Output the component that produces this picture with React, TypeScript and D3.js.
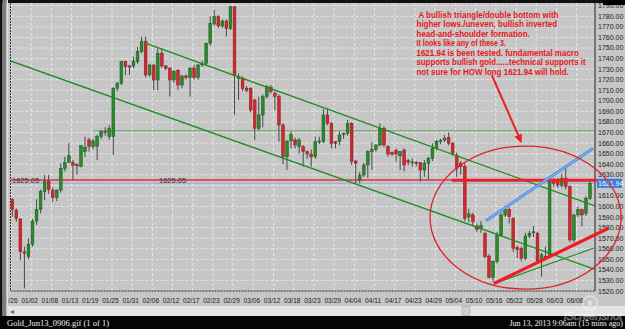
import React from 'react';
import * as d3 from 'd3';

// ---------- DATA ----------
const opens = [1606.8,1596.6,1588.1,1557,1552.5,1564.2,1586.2,1597.3,1614,1623.5,1615.6,1608.3,1615.6,1636,1642,1641.5,1639.5,1638,1652,1663,1657,1657,1666,1671,1666,1666,1711.8,1716.6,1737,1733,1733,1737,1746.5,1756,1724.5,1733.9,1719.7,1745,1733,1730.8,1719.7,1729,1715,1723.5,1722.2,1730.8,1722.2,1733.9,1735.5,1754.4,1772.7,1779.7,1770.8,1775.5,1768.6,1789.1,1721,1721.3,1712,1711.8,1700.8,1674,1686.6,1703.9,1712.7,1707,1704,1677.1,1647,1662,1663,1656.6,1656.6,1651.9,1649.7,1647.1,1661,1661.3,1686.6,1678.7,1661.3,1661.3,1668,1669.2,1678.7,1643,1625,1629.8,1639.3,1651.9,1654,1658.2,1674,1656.6,1651,1653,1648,1653.4,1643.5,1642,1641.5,1641.5,1634.5,1640.8,1645.5,1655,1661.5,1663,1665.4,1659.8,1648.7,1641,1638,1590,1592,1581.5,1579.3,1574.6,1553,1533,1547.7,1573,1591.9,1597.3,1588.8,1561,1560.4,1550.9,1572,1575.5,1574.6,1549.5,1553,1552.5,1625,1625,1620,1626.6,1618.7,1568.3,1592,1597,1593.5,1607.7];
const highs = [1608,1598,1589,1562,1570,1588,1606.8,1616,1629.8,1629.8,1618,1616,1640.8,1647,1660,1644,1641,1658,1666,1665,1664,1668,1672,1675,1677,1713,1718,1738,1738,1734,1741.8,1751,1760.7,1760.7,1735,1735,1749.7,1750,1734,1732,1729,1730,1724.5,1725,1732,1734,1735,1738,1755,1780,1786,1781,1777,1777,1789.1,1789.1,1726,1723,1714,1713,1702,1704,1706,1715,1715,1709,1706,1679,1663,1671,1665,1665,1658,1653,1654,1666,1666,1692,1692.8,1680,1662,1671,1670,1682,1680,1644,1633,1641,1653,1661,1659,1678.7,1676,1658,1652,1655,1652,1655,1645,1645.5,1643,1642,1644,1647,1659.8,1663,1664,1667.6,1670,1661,1651,1643,1641,1598,1594,1584,1586,1576,1555,1549,1576,1594,1600,1599,1590,1563,1562,1575,1577,1581.5,1576,1556,1562,1625,1626.6,1627,1631,1639.3,1620,1593,1600,1598,1610,1624];
const lows = [1590,1585.6,1549.3,1522.5,1550,1562,1582.5,1593.5,1606,1612,1604.5,1605,1613,1633,1641,1625,1630,1637,1647,1652,1654,1644,1664,1667,1663,1648.7,1709,1715,1724.5,1724.5,1731,1735,1745,1722,1723,1710.2,1710,1731,1729,1704,1717,1710,1711.8,1720,1704,1720,1720,1732,1734,1752,1771,1769,1769,1760.7,1767,1686.6,1700.8,1709,1708,1689,1662.9,1672,1675,1702,1707,1691,1661.3,1640,1634.5,1655,1655,1650,1637.7,1645,1637.7,1645,1659,1660,1677,1655,1655,1658,1664,1667,1639.3,1621.9,1622,1628,1627,1634.5,1652,1657,1656,1647,1648,1642.4,1634.5,1633,1639,1637.7,1638,1623.5,1628,1625,1643,1653,1659,1661,1658,1648,1628,1630,1586,1585,1581,1576,1575,1551,1532,1528.8,1546,1571,1590,1584,1557,1551,1548,1549,1570,1571,1546,1533.6,1550,1551,1618.7,1618,1618,1616,1566,1566,1590,1581,1591,1606];
const closes = [1597.3,1588.8,1557.2,1555.8,1564.2,1586.2,1597.3,1614,1623.5,1616.2,1608.3,1615.6,1636,1641.5,1648,1639,1638.5,1657.6,1656,1657,1662,1666,1670.8,1670,1674,1711.8,1716.6,1737,1732.3,1732,1737.7,1746.5,1756,1724.5,1733.9,1719.7,1745,1733,1730.8,1719.7,1727.6,1715,1723.5,1722.2,1730.8,1722.2,1733.9,1735.5,1754.4,1773.3,1779.7,1770.8,1775.5,1768.6,1789.1,1724.5,1723,1711.8,1710,1691.3,1674,1686.6,1703.9,1713.4,1708.7,1704,1677.1,1647.1,1661.3,1668,1658.2,1662.9,1651.9,1649.7,1647,1661.3,1662,1686.6,1678.7,1659.8,1659.8,1667.6,1669.2,1678.7,1642.4,1641,1629.8,1639.3,1651.9,1654,1658.2,1674,1658.2,1649.7,1649.5,1649.7,1651.9,1639.3,1642,1642.2,1640.8,1634.5,1640.8,1645.5,1655,1661.3,1662.5,1664.5,1659.8,1650.3,1636.1,1637.7,1588.8,1593,1585.6,1578.4,1582,1552.5,1533,1547.7,1573,1591.9,1597.3,1590.4,1560.4,1559,1550.9,1572,1574.6,1576,1547.7,1554.2,1551,1623.5,1622,1620.3,1626.6,1618.7,1568.3,1591.9,1597,1592,1607.7,1621.9];

const dateLabels = ['12/26','01/02','01/08','01/13','01/19','01/25','01/31','02/06','02/12','02/17','02/23','02/29','03/06','03/12','03/18','03/23','03/29','04/04','04/11','04/17','04/23','04/29','05/04','05/10','05/16','05/22','05/28','06/03','06/08'];
const priceTicks = d3.range(1520, 1791, 10);
const drawnLevel = 1625.05;
const lastPrice = 1621.94;
const resistanceLevel = 1671.7;
const thickLevel = 1624.8;

// annotation endpoints: [candle index, price]
const channelUpper = [[33.1, 1754.3], [144, 1600.9]];
const channelLower = [[-0.6, 1738], [144, 1540.8]];
const resistanceSpan = [20, 144];
const thickLevelSpan = [108.8, 144.7];
const redSupport = [[119.5, 1527.6], [147.2, 1578.7]];
const greenSupport = [[119.5, 1527.3], [143.8, 1560.4]];
const blueResist = [[117.5, 1587.2], [143.5, 1654.4]];
const ellipse = { ci: 127.05, cp: 1589.5, hi: 23.65, hp: 67.7 };
const arrow = [[118.7, 1724.4], [126.1, 1659.8]];

const noteLines = [
  ' A bullish triangle/double bottom with',
  'higher lows./uneven, bullish inverted',
  'head-and-shoulder formation.',
  'It looks like any of these 3.',
  '1621.94 is been tested. fundamental macro',
  'supports bullish gold......technical supports it',
  'not sure for HOW long 1621.94 will hold.',
];
const noteWidths = [142, 140.7, 113.3, 89.3, 162.3, 169, 152.3];

// ---------- CHART ----------
const W = 625, H = 329;
const PL = 10.5, PR = 595, PT = 3, PB = 291;

export default function App() {
  const x = d3.scaleLinear().domain([0, 143]).range([12.3, 590]);
  const y = d3.scaleLinear().domain([1520, 1780]).range([291, 16.3]);
  const bw = 2.8;
  const lblX = dateLabels.map((_, k) => x(k * 5 - 0.7));

  const seg = (p: number[][], stroke: string, sw: number, key: string, op = 1) => (
    <line key={key} x1={x(p[0][0])} y1={y(p[0][1])} x2={x(p[1][0])} y2={y(p[1][1])}
      stroke={stroke} strokeWidth={sw} strokeOpacity={op} strokeLinecap="round" />
  );

  const ax1 = x(arrow[0][0]), ay1 = y(arrow[0][1]), ax2 = x(arrow[1][0]), ay2 = y(arrow[1][1]);
  const ang = Math.atan2(ay2 - ay1, ax2 - ax1);
  const ah = 9, aw = 4;
  const bx = ax2 - ah * Math.cos(ang), by = ay2 - ah * Math.sin(ang);
  const head = `M${ax2},${ay2} L${bx + aw * Math.sin(ang)},${by - aw * Math.cos(ang)} L${bx - aw * Math.sin(ang)},${by + aw * Math.cos(ang)} Z`;

  const ecx = x(ellipse.ci), ecy = y(ellipse.cp);
  const erx = x(ellipse.ci + ellipse.hi) - ecx, ery = y(ellipse.cp - ellipse.hp) - ecy;
  const boxTop = y(lastPrice) - 4.5, boxBot = y(lastPrice) + 4.5;

  return (
    <svg width={W} height={H} style={{ position: 'absolute', left: 0, top: 0, display: 'block' }}
      fontFamily="'Liberation Sans', Arial, sans-serif">
      <defs>
        <clipPath id="plot"><rect x={PL} y={PT} width={PR - PL} height={PB - PT} /></clipPath>
      </defs>
      {/* background */}
      <rect x={0} y={0} width={W} height={H} fill="#c6c6c6" />
      {/* grid */}
      <g clipPath="url(#plot)">
        {priceTicks.map(v => (
          <line key={'h' + v} x1={PL} x2={PR} y1={y(v)} y2={y(v)} stroke="#e6e6e6" strokeWidth={1} strokeDasharray="3,2" />
        ))}
        {lblX.map((lx, k) => (
          <line key={'v' + k} x1={lx + 1.5} x2={lx + 1.5} y1={PT} y2={PB} stroke="#e6e6e6" strokeWidth={1} strokeDasharray="3,2" />
        ))}
        {/* horizontal levels */}
        <line x1={PL} x2={PR} y1={y(lastPrice)} y2={y(lastPrice)} stroke="#8fb0d8" strokeWidth={1} />
        <line x1={PL} x2={PR} y1={y(drawnLevel)} y2={y(drawnLevel)} stroke="#e0303a" strokeWidth={1.4} />
        <line x1={x(resistanceSpan[0])} x2={PR} y1={y(resistanceLevel)} y2={y(resistanceLevel)} stroke="#6aa86a" strokeWidth={1} />
        <text x={12} y={y(drawnLevel) + 2.6} fontSize={7.5} fill="#333">{drawnLevel.toFixed(2)}</text>
        <text x={159} y={y(drawnLevel) + 2.6} fontSize={7.5} fill="#333">{drawnLevel.toFixed(2)}</text>
        {/* candles */}
        {opens.map((o, i) => {
          const c = closes[i];
          const up = c >= o;
          const cx = x(i);
          const top = y(Math.max(o, c)), bot = y(Math.min(o, c));
          return (
            <g key={'c' + i}>
              <line x1={cx} x2={cx} y1={y(highs[i])} y2={y(lows[i])} stroke="#4a4a4a" strokeWidth={1} />
              <rect x={cx - bw / 2} y={top} width={bw} height={Math.max(1, bot - top)}
                fill={up ? '#2b8a2b' : '#cc2a2e'} stroke={up ? '#17561a' : '#8c1a1c'} strokeWidth={0.5} />
            </g>
          );
        })}
        {/* channel lines */}
        {seg(channelUpper, '#1f8c1f', 1.3, 'cu')}
        {seg(channelLower, '#1f8c1f', 1.3, 'cl')}
        {seg(greenSupport, '#1f8c1f', 1.1, 'gs')}
      </g>
      {/* plot frame */}
      <line x1={PL} x2={PL} y1={PT} y2={PB} stroke="#333" strokeWidth={1} strokeDasharray="2,1" />
      <line x1={PL} x2={PR} y1={PB} y2={PB} stroke="#222" strokeWidth={1} strokeDasharray="2,1" />
      <line x1={PR} x2={PR} y1={PT} y2={PB} stroke="#222" strokeWidth={1} />
      {/* price axis (the tick hidden by the last-price box is not drawn) */}
      {priceTicks.filter(v => y(v) + 3 < boxTop || y(v) - 3 > boxBot).map(v => (
        <text key={'t' + v} x={598} y={y(v) + 2.5} fontSize={7} fill="#222">{v.toFixed(2)}</text>
      ))}
      <rect x={597} y={boxTop} width={25} height={9} fill="#3a7bd8" />
      <text x={598} y={y(lastPrice) + 2.5} fontSize={7} fill="#fff">{lastPrice.toFixed(2)}</text>
      {/* date axis */}
      {dateLabels.map((d, k) => (
        <text key={'d' + k} x={lblX[k]} y={302.5} fontSize={6.6} fill="#222" textAnchor="middle">{d}</text>
      ))}
      {/* annotations */}
      <line x1={x(thickLevelSpan[0])} x2={x(thickLevelSpan[1])} y1={y(thickLevel)} y2={y(thickLevel)} stroke="#ee1c24" strokeWidth={3} />
      {seg(redSupport, '#ee1c24', 3.2, 'rs')}
      {seg(blueResist, '#4a90e8', 3, 'br')}
      {seg(blueResist, '#a8c8f0', 0.8, 'br2')}
      <ellipse cx={ecx} cy={ecy} rx={erx} ry={ery} fill="none" stroke="#e0202a" strokeWidth={1.3} />
      <line x1={ax1} y1={ay1} x2={bx} y2={by} stroke="#ee1c24" strokeWidth={2} />
      <path d={head} fill="#ee1c24" />
      {noteLines.map((t, k) => (
        <text key={'n' + k} x={416.5} y={18 + k * 9.45} fontSize={8.5} fontWeight="bold" fill="#e8161e"
          textLength={noteWidths[k]} lengthAdjust="spacingAndGlyphs" style={{ whiteSpace: 'pre' }}>{t}</text>
      ))}
      {/* window chrome */}
      <rect x={0} y={0} width={W} height={3} fill="#111" />
      <rect x={603} y={0} width={22} height={5} fill="#000" />
      <rect x={0} y={0} width={2.5} height={H} fill="#111" />
      <rect x={2.5} y={0} width={4} height={316} fill="#7c7c7c" />
      <rect x={6.5} y={0} width={1.5} height={316} fill="#e2e2e2" />
      <rect x={8} y={306} width={617} height={10} fill="#e4e4e4" />
      <text x={10} y={314} fontSize={8} fill="#666">◂</text>
      <rect x={462} y={306.5} width={8} height={9} fill="#d0d0d0" stroke="#a0a0a0" strokeWidth={0.6} />
      <rect x={0} y={316} width={W} height={13} fill="#050505" />
      <text x={7} y={326} fontSize={8.5} fill="#f0f0f0" fontFamily="'Liberation Serif', serif">Gold_Jun13_0906.gif (1 of 1)</text>
      <text x={623} y={326} fontSize={8} fill="#f0f0f0" textAnchor="end" fontFamily="'Liberation Serif', serif">Jun 13, 2013 9:06am (15 mins ago)</text>
      <circle cx={590} cy={303} r={7} fill="none" stroke="#ffffff" strokeOpacity={0.5} strokeWidth={1.5} />
      <circle cx={590} cy={303} r={2.5} fill="#ffffff" fillOpacity={0.45} />
      <text x={564} y={320} fontSize={11} fontStyle="italic" fill="none" stroke="#ffffff" strokeOpacity={0.5} strokeWidth={0.6}>iScreenshot</text>
    </svg>
  );
}
